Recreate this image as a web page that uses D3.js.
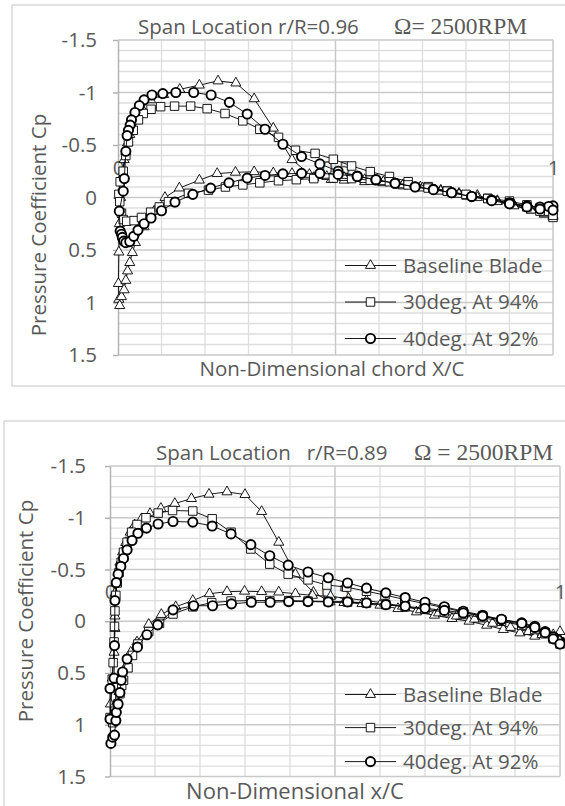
<!DOCTYPE html>
<html>
<head>
<meta charset="utf-8">
<script src="https://d3js.org/d3.v7.min.js"></script>
<style>
  body { margin:0; background:#fff; }
  text { font-family: "Open Sans", sans-serif; fill:#595959; }
</style>
</head>
<body>
<script>
// ---- data: [x/C, Cp], upper surface TE -> LE, then lower surface LE -> TE ----
const seriesNames = ["Baseline Blade", "30deg. At 94%", "40deg. At 92%"];
const yTicks = [-1.5, -1, -0.5, 0, 0.5, 1, 1.5];
const xTicks = [0, 0.5, 1];

// r/R = 0.96
const topBaseline = [[1.0,0.18],[0.98,0.16],[0.95,0.12],[0.91,0.07],[0.872,0.03],[0.826,-0.02],[0.784,-0.04],[0.742,-0.07],[0.695,-0.10],[0.655,-0.11],[0.609,-0.14],[0.567,-0.15],[0.52,-0.165],[0.49,-0.17],[0.45,-0.19],[0.40,-0.36],[0.357,-0.66],[0.313,-0.94],[0.271,-1.09],[0.23,-1.11],[0.187,-1.07],[0.142,-1.03],[0.105,-0.98],[0.075,-0.93],[0.055,-0.85],[0.042,-0.76],[0.033,-0.68],[0.027,-0.6],[0.022,-0.52],[0.018,-0.44],[0.014,-0.36],[0.010,-0.2],[0.006,0.0],[0.003,0.25],[0.002,0.52],[0.001,0.82],[0.002,0.97],[0.004,1.03],[0.008,0.945],[0.014,0.88],[0.018,0.79],[0.022,0.70],[0.027,0.62],[0.033,0.525],[0.04,0.43],[0.06,0.28],[0.083,0.13],[0.108,0.0],[0.141,-0.09],[0.187,-0.165],[0.228,-0.228],[0.27,-0.24],[0.313,-0.245],[0.357,-0.234],[0.40,-0.228],[0.44,-0.22],[0.48,-0.2],[0.52,-0.19],[0.567,-0.17],[0.61,-0.15],[0.655,-0.12],[0.70,-0.09],[0.742,-0.06],[0.784,-0.03],[0.826,0.0],[0.872,0.04],[0.91,0.08],[0.95,0.12],[0.98,0.15],[1.0,0.17]];
const top30 = [[1.0,0.19],[0.99,0.13],[0.97,0.10],[0.94,0.07],[0.90,0.034],[0.85,0.008],[0.80,-0.024],[0.757,-0.062],[0.713,-0.103],[0.667,-0.15],[0.624,-0.2],[0.58,-0.246],[0.537,-0.30],[0.495,-0.364],[0.453,-0.42],[0.408,-0.45],[0.369,-0.573],[0.326,-0.65],[0.287,-0.73],[0.246,-0.80],[0.205,-0.846],[0.167,-0.87],[0.13,-0.87],[0.098,-0.865],[0.076,-0.84],[0.058,-0.80],[0.047,-0.74],[0.035,-0.64],[0.024,-0.53],[0.018,-0.40],[0.012,-0.25],[0.005,-0.15],[0.002,-0.03],[0.004,0.04],[0.008,0.15],[0.012,0.21],[0.02,0.226],[0.037,0.22],[0.054,0.19],[0.075,0.14],[0.095,0.09],[0.116,0.04],[0.162,-0.04],[0.208,-0.07],[0.247,-0.10],[0.287,-0.12],[0.326,-0.14],[0.369,-0.16],[0.41,-0.17],[0.45,-0.18],[0.495,-0.185],[0.537,-0.18],[0.58,-0.165],[0.624,-0.15],[0.667,-0.12],[0.713,-0.09],[0.757,-0.06],[0.80,-0.03],[0.85,0.01],[0.90,0.05],[0.94,0.09],[0.97,0.13],[1.0,0.17]];
const top40 = [[1.0,0.08],[0.99,0.085],[0.97,0.09],[0.94,0.08],[0.90,0.05],[0.859,0.024],[0.813,-0.008],[0.767,-0.046],[0.725,-0.078],[0.683,-0.103],[0.637,-0.135],[0.593,-0.167],[0.55,-0.205],[0.506,-0.25],[0.464,-0.32],[0.422,-0.39],[0.379,-0.507],[0.338,-0.65],[0.297,-0.795],[0.256,-0.906],[0.214,-0.976],[0.174,-1.0],[0.133,-1.0],[0.103,-0.99],[0.078,-0.976],[0.06,-0.93],[0.049,-0.875],[0.039,-0.81],[0.031,-0.74],[0.028,-0.69],[0.024,-0.64],[0.021,-0.59],[0.018,-0.44],[0.0145,-0.18],[0.012,-0.06],[0.003,0.13],[0.005,0.32],[0.008,0.35],[0.01,0.38],[0.013,0.415],[0.018,0.43],[0.027,0.42],[0.036,0.37],[0.046,0.31],[0.06,0.25],[0.076,0.195],[0.10,0.126],[0.131,0.044],[0.172,-0.03],[0.213,-0.09],[0.255,-0.14],[0.297,-0.185],[0.338,-0.21],[0.379,-0.225],[0.422,-0.23],[0.464,-0.23],[0.506,-0.22],[0.55,-0.2],[0.593,-0.17],[0.637,-0.135],[0.683,-0.10],[0.725,-0.075],[0.767,-0.045],[0.813,-0.01],[0.859,0.03],[0.90,0.06],[0.94,0.09],[0.97,0.11],[1.0,0.12]];

// r/R = 0.89
const botBaseline = [[1.0,0.1],[0.985,0.13],[0.944,0.145],[0.911,0.113],[0.874,0.08],[0.837,0.039],[0.798,0.0],[0.76,-0.026],[0.721,-0.058],[0.681,-0.09],[0.64,-0.122],[0.60,-0.155],[0.56,-0.17],[0.52,-0.18],[0.489,-0.187],[0.452,-0.28],[0.412,-0.455],[0.375,-0.763],[0.337,-1.06],[0.30,-1.224],[0.26,-1.25],[0.22,-1.227],[0.181,-1.185],[0.144,-1.137],[0.113,-1.09],[0.089,-1.04],[0.07,-0.99],[0.055,-0.93],[0.045,-0.86],[0.035,-0.76],[0.028,-0.67],[0.022,-0.57],[0.018,-0.47],[0.014,-0.37],[0.011,-0.27],[0.011,-0.05],[0.011,0.07],[0.009,0.3],[0.005,0.55],[0.001,0.8],[0.004,0.95],[0.01,0.88],[0.015,0.78],[0.02,0.68],[0.026,0.57],[0.034,0.445],[0.046,0.3],[0.06,0.2],[0.086,0.03],[0.114,-0.065],[0.146,-0.14],[0.184,-0.2],[0.221,-0.266],[0.26,-0.286],[0.299,-0.29],[0.337,-0.286],[0.375,-0.282],[0.412,-0.266],[0.45,-0.25],[0.49,-0.24],[0.53,-0.22],[0.57,-0.2],[0.61,-0.175],[0.65,-0.145],[0.69,-0.11],[0.73,-0.08],[0.77,-0.05],[0.81,-0.02],[0.85,0.02],[0.89,0.06],[0.93,0.1],[0.96,0.13],[0.985,0.16],[1.0,0.18]];
const bot30 = [[1.0,0.2],[0.985,0.16],[0.967,0.11],[0.944,0.07],[0.915,0.03],[0.87,-0.01],[0.828,-0.05],[0.785,-0.09],[0.743,-0.13],[0.70,-0.17],[0.655,-0.21],[0.611,-0.253],[0.57,-0.29],[0.526,-0.33],[0.482,-0.35],[0.44,-0.4],[0.396,-0.455],[0.355,-0.552],[0.313,-0.698],[0.269,-0.86],[0.227,-0.99],[0.184,-1.065],[0.139,-1.07],[0.107,-1.045],[0.08,-1.0],[0.06,-0.935],[0.048,-0.86],[0.038,-0.763],[0.03,-0.666],[0.025,-0.57],[0.02,-0.47],[0.016,-0.37],[0.013,-0.25],[0.011,-0.1],[0.01,0.05],[0.009,0.2],[0.007,0.4],[0.005,0.56],[0.0,0.93],[0.006,0.98],[0.012,0.9],[0.017,0.8],[0.022,0.7],[0.026,0.62],[0.03,0.57],[0.04,0.45],[0.05,0.33],[0.062,0.22],[0.086,0.1],[0.11,0.02],[0.14,-0.07],[0.184,-0.14],[0.226,-0.18],[0.269,-0.195],[0.313,-0.2],[0.355,-0.2],[0.397,-0.2],[0.44,-0.195],[0.485,-0.19],[0.528,-0.185],[0.57,-0.175],[0.613,-0.16],[0.656,-0.14],[0.70,-0.115],[0.743,-0.09],[0.785,-0.065],[0.828,-0.035],[0.87,0.0],[0.915,0.04],[0.944,0.08],[0.967,0.12],[0.985,0.17],[1.0,0.22]];
const bot40 = [[1.0,0.2],[0.995,0.18],[0.985,0.15],[0.967,0.1],[0.944,0.048],[0.915,0.016],[0.87,-0.016],[0.828,-0.058],[0.785,-0.097],[0.743,-0.14],[0.70,-0.184],[0.656,-0.229],[0.613,-0.274],[0.57,-0.32],[0.528,-0.37],[0.485,-0.42],[0.44,-0.476],[0.396,-0.542],[0.355,-0.633],[0.313,-0.74],[0.269,-0.844],[0.227,-0.92],[0.184,-0.958],[0.14,-0.964],[0.107,-0.94],[0.081,-0.9],[0.062,-0.85],[0.049,-0.78],[0.038,-0.69],[0.03,-0.607],[0.024,-0.53],[0.018,-0.455],[0.014,-0.373],[0.011,-0.2],[0.01,0.235],[0.009,0.55],[0.0,0.65],[0.0,0.945],[0.002,1.18],[0.006,1.12],[0.01,1.1],[0.013,0.96],[0.014,0.88],[0.018,0.8],[0.022,0.69],[0.025,0.57],[0.028,0.49],[0.038,0.365],[0.061,0.25],[0.082,0.13],[0.106,0.035],[0.14,-0.11],[0.186,-0.15],[0.228,-0.15],[0.27,-0.168],[0.314,-0.184],[0.356,-0.184],[0.397,-0.19],[0.44,-0.19],[0.485,-0.187],[0.528,-0.187],[0.57,-0.177],[0.613,-0.16],[0.656,-0.145],[0.70,-0.125],[0.743,-0.105],[0.785,-0.08],[0.828,-0.05],[0.87,-0.02],[0.915,0.02],[0.944,0.06],[0.967,0.11],[0.985,0.17],[1.0,0.22]];

const svg = d3.select("body").append("svg")
  .attr("width", 565)
  .attr("height", 806);

const markers = ["triangle", "square", "circle"];

function drawMarker(g, kind, x, y) {
  if (kind === "circle") {
    g.append("circle").attr("cx", x).attr("cy", y).attr("r", 4.6)
      .attr("fill", "#fff").attr("stroke", "#000").attr("stroke-width", 1.9);
  } else {
    const sym = kind === "triangle" ? d3.symbolTriangle : d3.symbolSquare;
    const size = kind === "triangle" ? 44 : 72;
    g.append("path").attr("d", d3.symbol(sym, size)())
      .attr("transform", `translate(${x},${y})`)
      .attr("fill", "#fff").attr("stroke", "#000").attr("stroke-width", 0.9);
  }
}

function drawChart(cfg, series) {
  const g = svg.append("g");

  g.append("rect")
    .attr("x", cfg.box[0]).attr("y", cfg.box[1])
    .attr("width", cfg.box[2]).attr("height", cfg.box[3])
    .attr("fill", "none").attr("stroke", "#d9d9d9").attr("stroke-width", 1.5);

  const x = d3.scaleLinear().domain([0, 1]).range([cfg.l, cfg.r]);
  const y = d3.scaleLinear().domain([-1.5, 1.5]).range([cfg.t, cfg.b]);

  // gridlines: minor every 0.1, major every 0.5
  const grid = g.append("g");
  const minor = d3.range(-15, 16).map(d => d / 10);
  grid.append("g").selectAll("line").data(minor.filter(d => Math.round(d * 10) % 5 !== 0))
    .join("line")
    .attr("x1", cfg.l).attr("x2", cfg.r)
    .attr("y1", d => y(d)).attr("y2", d => y(d))
    .attr("stroke", "#dedede").attr("stroke-width", 1.3);
  grid.append("g").selectAll("line").data(d3.range(1, 10).filter(d => d !== 5).map(d => d / 10))
    .join("line")
    .attr("x1", d => x(d)).attr("x2", d => x(d))
    .attr("y1", cfg.t).attr("y2", cfg.b)
    .attr("stroke", "#dedede").attr("stroke-width", 1.3);
  grid.append("g").selectAll("line").data(yTicks)
    .join("line")
    .attr("x1", cfg.l).attr("x2", cfg.r)
    .attr("y1", d => y(d)).attr("y2", d => y(d))
    .attr("stroke", "#c9c9c9").attr("stroke-width", 1.5);
  grid.append("g").selectAll("line").data([0.5, 1])
    .join("line")
    .attr("x1", d => x(d)).attr("x2", d => x(d))
    .attr("y1", cfg.t).attr("y2", cfg.b)
    .attr("stroke", "#c9c9c9").attr("stroke-width", 1.5);

  // y axis
  const yAxis = d3.axisLeft(y).tickValues(yTicks)
    .tickFormat(d => String(d)).tickSizeInner(5).tickSizeOuter(0).tickPadding(cfg.tickPad);
  const ya = g.append("g").attr("transform", `translate(${cfg.l},0)`).call(yAxis);
  ya.select(".domain").attr("stroke", "#b3b3b3").attr("stroke-width", 1.5);
  ya.selectAll(".tick line").attr("stroke", "#b3b3b3").attr("stroke-width", 1.5);
  ya.selectAll(".tick text").style("font-size", "20.5px").attr("fill", "#595959")
    .style("font-family", "'Open Sans', sans-serif");

  // x axis labels (sit above the zero line)
  const xAxis = d3.axisBottom(x).tickValues(xTicks).tickFormat(d => String(d))
    .tickSize(0).tickPadding(0);
  const xa = g.append("g").attr("transform", `translate(0,${y(0) - cfg.xLabelRise})`).call(xAxis);
  xa.select(".domain").remove();
  xa.selectAll(".tick text").style("font-size", "20.5px").attr("fill", "#8c8c8c")
    .attr("dy", null).attr("y", 0)
    .style("font-family", "'Open Sans', sans-serif");

  // series
  const line = d3.line().x(d => x(d[0])).y(d => y(d[1]));
  series.forEach((s, i) => {
    const sg = g.append("g");
    sg.append("path").datum(s).attr("d", line)
      .attr("fill", "none").attr("stroke", "#000").attr("stroke-width", 0.9);
    s.forEach(d => drawMarker(sg, markers[i], x(d[0]), y(d[1])));
  });

  // titles
  const tt = g.append("text").attr("y", cfg.titleY).style("font-size", "20.5px")
    .attr("xml:space", "preserve").style("white-space", "pre");
  tt.append("tspan").attr("x", cfg.title1X).text(cfg.title1);
  tt.append("tspan").attr("x", cfg.title2X)
    .style("font-family", "'Liberation Serif', 'Times New Roman', serif")
    .style("font-size", "23.5px").text(cfg.title2);

  g.append("text")
    .attr("transform", `translate(${cfg.yTitleX},${cfg.yTitleY}) rotate(-90)`)
    .attr("text-anchor", "middle").attr("dominant-baseline", "central")
    .style("font-size", "20.5px").text("Pressure Coefficient Cp");

  g.append("text").attr("x", cfg.xTitleX).attr("y", cfg.xTitleY)
    .attr("text-anchor", "middle").style("font-size", cfg.xTitleSize)
    .text(cfg.xTitle);

  // legend
  const lg = g.append("g");
  seriesNames.forEach((name, i) => {
    const ly = cfg.legendY[i];
    lg.append("line").attr("x1", 345).attr("x2", 396).attr("y1", ly).attr("y2", ly)
      .attr("stroke", "#000").attr("stroke-width", 0.9);
    drawMarker(lg, markers[i], 370.5, ly);
    lg.append("text").attr("x", 403).attr("y", ly + 7).style("font-size", "20.5px").text(name);
  });
}

drawChart({
  box: [12, 5, 600, 381], l: 118, r: 553, t: 40, b: 355, tickPad: 16,
  xLabelRise: 23,
  titleY: 34, title1: "Span Location r/R=0.96", title1X: 138,
  title2: "Ω= 2500RPM", title2X: 394,
  yTitleX: 38, yTitleY: 225,
  xTitle: "Non-Dimensional chord X/C", xTitleX: 332, xTitleY: 376, xTitleSize: "20.5px",
  legendY: [265.5, 302, 338.5]
}, [topBaseline, top30, top40]);

drawChart({
  box: [4, 421, 600, 400], l: 110, r: 560, t: 466, b: 776.5, tickPad: 19,
  xLabelRise: 22,
  titleY: 460, title1: "Span Location   r/R=0.89", title1X: 156,
  title2: "Ω = 2500RPM", title2X: 414,
  yTitleX: 25, yTitleY: 611,
  xTitle: "Non-Dimensional x/C", xTitleX: 295, xTitleY: 799, xTitleSize: "22px",
  legendY: [694.5, 727.6, 761.6]
}, [botBaseline, bot30, bot40]);
</script>
</body>
</html>
